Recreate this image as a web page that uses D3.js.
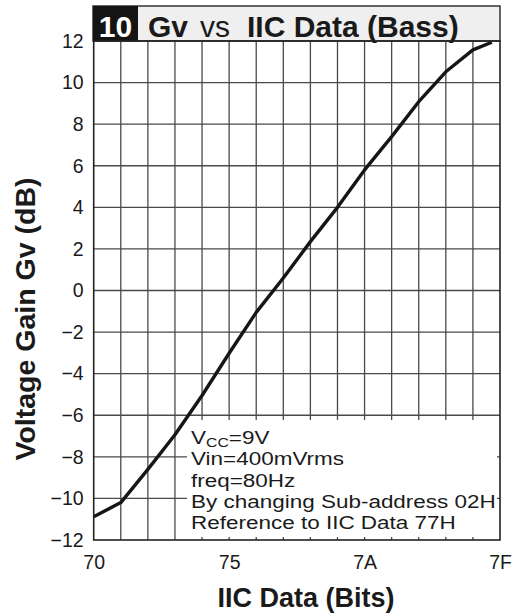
<!DOCTYPE html>
<html>
<head>
<meta charset="utf-8">
<script src="https://cdn.jsdelivr.net/npm/d3@7"></script>
<style>
  html, body { margin: 0; padding: 0; background: #fff; }
  svg { display: block; font-family: "Liberation Sans", Arial, sans-serif; }
</style>
</head>
<body>
<svg id="chart" width="516" height="615"></svg>
<script>
// ---- data ----
const xIndex = [0, 1, 2, 3, 4, 5, 6, 7, 8, 9, 10, 11, 12, 13, 14, 14.7];
const gainDb = [-10.88, -10.2, -8.6, -6.94, -5.05, -3.02, -1.05, 0.6, 2.35, 4.0, 5.8, 7.4, 9.08, 10.52, 11.57, 11.94];
const xTickValues = [0, 5, 10, 15];
const xTickLabels = ["70", "75", "7A", "7F"];
const xGridValues = d3.range(0, 16);
const yTickValues = [-12, -10, -8, -6, -4, -2, 0, 2, 4, 6, 8, 10, 12];
const noteLines = ["Vin=400mVrms", "freq=80Hz", "By changing Sub-address 02H", "Reference to IIC Data 77H"];

// ---- layout ----
const svg = d3.select("#chart");
const L = 93.7, R = 500, T = 41, B = 540;
const x = d3.scaleLinear().domain([0, 15]).range([L, R]);
const y = d3.scaleLinear().domain([-12, 12]).range([B, T]);

// title box
svg.append("rect").attr("x", 93).attr("y", 6).attr("width", 407).attr("height", 35)
  .attr("fill", "#efefef").attr("stroke", "#333").attr("stroke-width", 1.5);
svg.append("rect").attr("x", 93).attr("y", 6).attr("width", 45).attr("height", 35).attr("fill", "#141414");
svg.append("text").attr("x", 115.5).attr("y", 37).attr("text-anchor", "middle")
  .attr("font-size", 30).attr("font-weight", "bold").attr("fill", "#fff").text("10");
svg.append("text").attr("x", 148).attr("y", 37).attr("font-size", 30).attr("font-weight", "bold").attr("fill", "#1a1a1a").text("Gv");
svg.append("text").attr("x", 200).attr("y", 37).attr("font-size", 30).attr("fill", "#1a1a1a").text("vs");
svg.append("text").attr("x", 247).attr("y", 37).attr("font-size", 30).attr("font-weight", "bold").attr("fill", "#1a1a1a").text("IIC Data (Bass)");

// grid
const grid = svg.append("g");
grid.selectAll("line.v").data(xGridValues.slice(1, 15)).join("line")
  .attr("x1", d => x(d)).attr("x2", d => x(d)).attr("y1", T).attr("y2", B)
  .attr("stroke", "#4a4a4a").attr("stroke-width", 1.3);
grid.selectAll("line.h").data(yTickValues.slice(1, 12)).join("line")
  .attr("x1", L).attr("x2", R).attr("y1", d => y(d)).attr("y2", d => y(d))
  .attr("stroke", "#4a4a4a").attr("stroke-width", 1.3);

// curve
const line = d3.line().x((d, i) => x(xIndex[i])).y(d => y(d));
svg.append("path").datum(gainDb).attr("d", line)
  .attr("fill", "none").attr("stroke", "#161616").attr("stroke-width", 3.4)
  .attr("stroke-linejoin", "round");

// annotation box (covers grid, leaves small ticks)
svg.append("rect").attr("x", 187).attr("y", 420).attr("width", 310).attr("height", 117).attr("fill", "#fff");
const note = svg.append("g").attr("font-size", 18.5).attr("fill", "#1a1a1a")
  .attr("transform", "translate(191,0) scale(1.215,1)");
const vcc = note.append("text").attr("x", 0).attr("y", 444);
vcc.append("tspan").text("V");
vcc.append("tspan").attr("font-size", 13).attr("dy", 3).text("CC");
vcc.append("tspan").attr("dy", -3).text("=9V");
note.selectAll("text.l").data(noteLines).join("text")
  .attr("x", 0).attr("y", (d, i) => 465.5 + i * 21.3).text(d => d);

// frame
svg.append("rect").attr("x", L).attr("y", T).attr("width", R - L).attr("height", B - T)
  .attr("fill", "none").attr("stroke", "#222").attr("stroke-width", 1.6);

// axes labels
const yAxis = d3.axisLeft(y).tickValues(yTickValues).tickSize(0).tickPadding(10);
const gy = svg.append("g").attr("transform", `translate(${L},0)`).call(yAxis);
gy.select(".domain").remove();
gy.selectAll("text").attr("font-size", 19.5).attr("fill", "#1a1a1a")
  .attr("font-family", "Liberation Sans, Arial, sans-serif");

const xAxis = d3.axisBottom(x).tickValues(xTickValues).tickFormat((d, i) => xTickLabels[i]).tickSize(0).tickPadding(15);
const gx = svg.append("g").attr("transform", `translate(0,${B})`).call(xAxis);
gx.select(".domain").remove();
gx.selectAll("text").attr("font-size", 19.5).attr("fill", "#1a1a1a")
  .attr("font-family", "Liberation Sans, Arial, sans-serif");

// axis titles
svg.append("text").attr("x", 306).attr("y", 607).attr("text-anchor", "middle")
  .attr("font-size", 27).attr("font-weight", "bold").attr("fill", "#1a1a1a").text("IIC Data (Bits)");
svg.append("text").attr("transform", "translate(35,319) rotate(-90)").attr("text-anchor", "middle")
  .attr("font-size", 28.5).attr("font-weight", "bold").attr("fill", "#1a1a1a").text("Voltage Gain Gv (dB)");
</script>
</body>
</html>
